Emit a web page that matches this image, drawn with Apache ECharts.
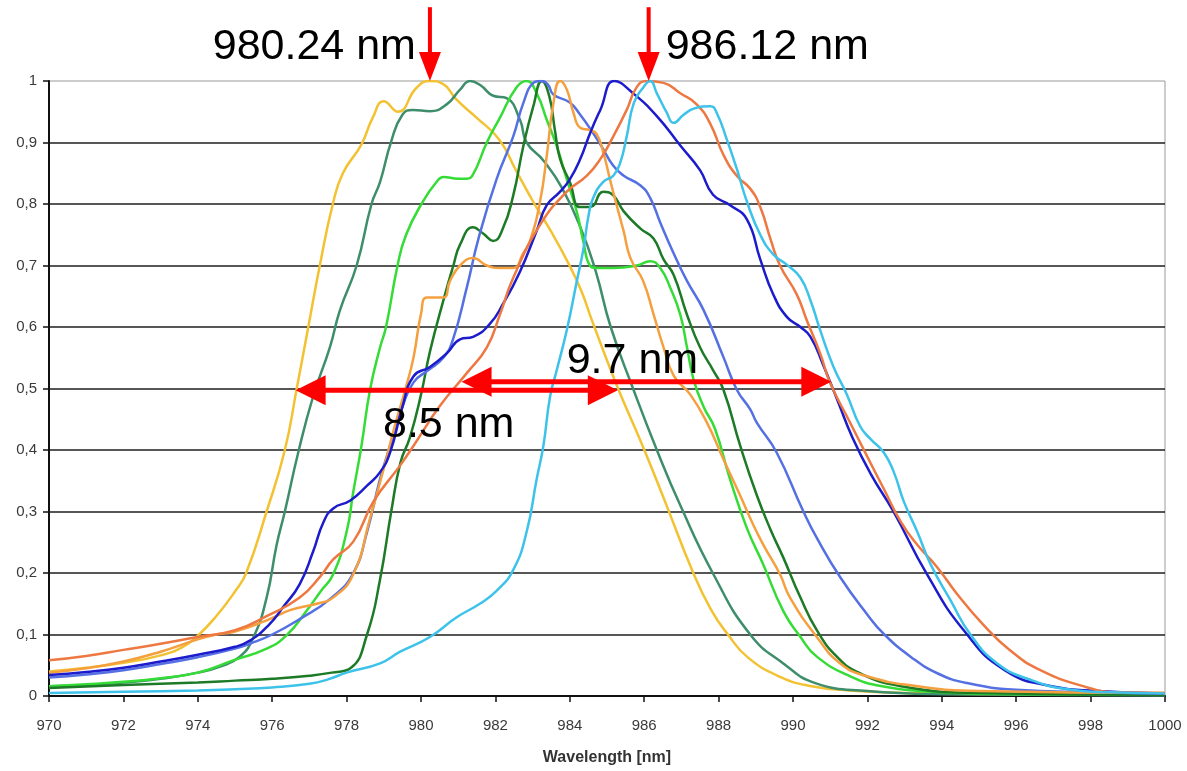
<!DOCTYPE html>
<html>
<head>
<meta charset="utf-8">
<title>Filter transmission spectra</title>
<script src="https://cdn.jsdelivr.net/npm/echarts@6/dist/echarts.min.js"></script>
<style>
  html, body { margin: 0; padding: 0; background: #fff; }
  #chart { width: 1187px; height: 771px; }
</style>
</head>
<body>
<div id="chart"></div>
<script>
// Normalised transmission curves, [wavelength nm, value]
const yellowCurve = [[970,0.040],[971,0.046],[972,0.054],[973,0.066],[973.6,0.080],[974,0.098],[974.5,0.13],[975,0.17],[975.3,0.20],[975.85,0.30],[976.34,0.40],[976.66,0.50],[976.97,0.60],[977.28,0.70],[977.63,0.80],[977.9,0.85],[978.4,0.897],[978.7,0.94],[979.0,0.967],[979.38,0.95],[979.88,0.989],[980.24,1.0],[980.6,0.995],[980.95,0.97],[981.5,0.94],[982.1,0.905],[982.55,0.855],[983.05,0.80],[983.5,0.755],[983.95,0.705],[984.3,0.66],[984.6,0.61],[985.1,0.53],[985.4,0.485],[985.97,0.405],[986.6,0.31],[987.3,0.203],[987.8,0.14],[988.25,0.10],[988.8,0.062],[989.7,0.03],[990.5,0.016],[991.5,0.009],[993,0.005],[995,0.003],[1000,0.002]];
const tealCurve = [[970,0.016],[971,0.018],[972,0.022],[973,0.028],[974,0.038],[974.6,0.048],[975.13,0.064],[975.5,0.096],[975.85,0.16],[976.12,0.246],[976.34,0.30],[976.7,0.396],[977.1,0.487],[977.55,0.567],[977.82,0.627],[978.27,0.70],[978.67,0.80],[978.9,0.836],[979.2,0.902],[979.5,0.945],[979.78,0.953],[980.24,0.951],[980.69,0.962],[981.05,0.986],[981.32,1.0],[981.6,0.993],[981.94,0.976],[982.3,0.972],[982.66,0.937],[982.84,0.90],[983.3,0.87],[983.8,0.825],[984.3,0.76],[984.7,0.69],[985.1,0.60],[985.7,0.50],[986.34,0.40],[986.97,0.31],[987.86,0.198],[988.85,0.10],[989.74,0.053],[990.6,0.021],[992,0.008],[994,0.003],[1000,0.001]];
const greenCurve = [[970,0.016],[971,0.019],[972,0.023],[973,0.029],[974,0.038],[974.95,0.058],[975.85,0.077],[976.39,0.099],[976.93,0.139],[977.3,0.17],[977.64,0.198],[978.0,0.267],[978.18,0.332],[978.4,0.407],[978.63,0.498],[978.9,0.567],[979.06,0.60],[979.37,0.70],[979.6,0.75],[980.05,0.804],[980.42,0.836],[980.6,0.844],[981.0,0.841],[981.23,0.841],[981.4,0.848],[981.77,0.90],[982.12,0.94],[982.57,0.99],[982.84,1.0],[983.11,0.98],[983.38,0.937],[983.65,0.894],[983.92,0.84],[984.19,0.787],[984.36,0.74],[984.54,0.70],[984.72,0.696],[985.17,0.696],[985.8,0.70],[986.16,0.707],[986.43,0.696],[986.7,0.664],[986.97,0.62],[987.15,0.567],[987.33,0.514],[987.6,0.47],[987.9,0.435],[988.3,0.354],[988.76,0.273],[989.2,0.214],[989.74,0.138],[990.2,0.096],[990.64,0.064],[991.54,0.032],[992.4,0.016],[994,0.006],[996,0.003],[1000,0.002]];
const darkGreenCurve = [[970,0.013],[972,0.018],[974,0.022],[975,0.025],[976,0.028],[977,0.033],[977.6,0.038],[978.1,0.045],[978.55,0.10],[978.9,0.19],[979.2,0.30],[979.45,0.38],[979.7,0.42],[980.0,0.49],[980.24,0.56],[980.6,0.643],[980.87,0.70],[981.05,0.734],[981.4,0.762],[981.67,0.752],[981.94,0.74],[982.2,0.76],[982.48,0.814],[982.75,0.894],[983.02,0.959],[983.25,1.0],[983.45,0.975],[983.6,0.92],[983.74,0.873],[984.0,0.836],[984.28,0.795],[984.55,0.795],[984.9,0.82],[985.17,0.814],[985.45,0.788],[985.9,0.76],[986.25,0.744],[986.52,0.71],[986.79,0.685],[987.15,0.62],[987.5,0.567],[987.85,0.53],[988.13,0.498],[988.58,0.407],[989.03,0.326],[989.4,0.27],[989.74,0.225],[990.2,0.16],[990.64,0.107],[991.18,0.064],[991.8,0.037],[992.9,0.016],[995,0.005],[1000,0.002]];
const blueCurve = [[970,0.030],[971,0.035],[972,0.042],[973,0.052],[974,0.063],[975,0.077],[975.4,0.085],[976,0.10],[976.74,0.125],[977.6,0.16],[978.18,0.20],[978.55,0.267],[978.9,0.353],[979.17,0.407],[979.5,0.47],[979.8,0.51],[980.2,0.53],[980.6,0.55],[980.85,0.578],[981.23,0.664],[981.55,0.745],[982.03,0.84],[982.48,0.91],[982.75,0.964],[983.02,0.997],[983.2,1.0],[983.4,0.995],[983.56,0.978],[984.0,0.965],[984.28,0.945],[984.63,0.915],[984.85,0.894],[985.17,0.862],[985.45,0.846],[985.9,0.83],[986.16,0.81],[986.43,0.77],[986.79,0.72],[987.15,0.675],[987.6,0.627],[988.13,0.551],[988.49,0.498],[988.85,0.466],[989.03,0.444],[989.56,0.396],[990.28,0.30],[990.64,0.257],[991.27,0.193],[991.99,0.133],[992.44,0.101],[993.16,0.064],[993.88,0.037],[994.68,0.021],[996,0.01],[998,0.006],[1000,0.004]];
const navyCurve = [[970,0.034],[971,0.039],[972,0.046],[973,0.056],[974,0.067],[975,0.08],[975.4,0.09],[975.9,0.115],[976.3,0.145],[976.74,0.182],[977.1,0.235],[977.38,0.283],[977.64,0.305],[978.1,0.318],[978.55,0.342],[978.9,0.364],[979.17,0.396],[979.5,0.47],[979.8,0.52],[980.24,0.535],[980.69,0.557],[981.05,0.58],[981.4,0.584],[981.85,0.605],[982.2,0.637],[982.66,0.69],[983.1,0.755],[983.38,0.798],[983.74,0.82],[984.0,0.84],[984.28,0.873],[984.55,0.916],[984.82,0.953],[985.2,1.0],[985.7,0.98],[986.34,0.943],[986.97,0.895],[987.5,0.855],[987.85,0.815],[988.31,0.798],[988.76,0.775],[989.12,0.71],[989.47,0.653],[989.84,0.616],[990.2,0.60],[990.47,0.584],[990.8,0.54],[991.2,0.48],[991.6,0.42],[992.1,0.36],[992.7,0.30],[993.6,0.198],[994.6,0.106],[995.69,0.042],[996.95,0.016],[998.2,0.008],[1000,0.004]];
const orangeCurve = [[970,0.038],[971,0.045],[972,0.056],[973,0.072],[974,0.092],[974.5,0.10],[975,0.105],[975.85,0.123],[976.5,0.14],[977.2,0.15],[977.64,0.16],[978.18,0.198],[978.63,0.289],[979.0,0.37],[979.3,0.44],[979.6,0.503],[979.8,0.551],[980.0,0.621],[980.16,0.648],[980.6,0.648],[980.78,0.675],[981.05,0.70],[981.4,0.712],[981.77,0.70],[982.12,0.696],[982.48,0.696],[982.75,0.72],[982.93,0.74],[983.2,0.804],[983.38,0.878],[983.56,0.964],[983.74,1.0],[983.92,0.986],[984.1,0.948],[984.28,0.924],[984.55,0.92],[984.72,0.914],[984.9,0.884],[985.08,0.84],[985.26,0.798],[985.45,0.755],[985.63,0.712],[985.97,0.675],[986.25,0.621],[986.52,0.567],[986.8,0.52],[987.24,0.49],[987.69,0.444],[988.13,0.385],[988.58,0.326],[988.85,0.289],[989.2,0.246],[989.65,0.198],[989.92,0.16],[990.64,0.096],[991.27,0.053],[991.99,0.032],[993.34,0.016],[995,0.008],[1000,0.005]];
const coralCurve = [[970,0.058],[971,0.065],[972,0.075],[973,0.085],[974,0.096],[975,0.107],[975.85,0.13],[976.74,0.16],[977.3,0.195],[977.64,0.222],[978.18,0.251],[978.72,0.316],[979.44,0.375],[979.8,0.407],[980.5,0.471],[981.23,0.525],[981.77,0.567],[982.12,0.62],[982.48,0.68],[983.2,0.766],[983.92,0.82],[984.46,0.846],[984.82,0.873],[985.17,0.91],[985.53,0.953],[985.8,0.99],[986.07,1.0],[986.52,0.997],[986.97,0.98],[987.41,0.962],[987.78,0.93],[988.13,0.88],[988.5,0.845],[988.85,0.825],[989.12,0.795],[989.4,0.742],[989.65,0.70],[990.1,0.653],[990.37,0.611],[990.73,0.557],[991.0,0.509],[991.54,0.444],[991.99,0.39],[992.44,0.337],[992.9,0.283],[993.34,0.246],[993.88,0.209],[994.41,0.166],[995.1,0.117],[995.84,0.074],[996.65,0.042],[997.8,0.016],[998.7,0.006],[1000,0.005]];
const cyanCurve = [[970,0.005],[972,0.007],[974,0.009],[975,0.011],[976,0.014],[977,0.02],[977.5,0.027],[978,0.038],[978.9,0.053],[979.44,0.072],[980.24,0.096],[980.96,0.128],[981.58,0.15],[982.03,0.171],[982.48,0.205],[982.84,0.267],[983.11,0.353],[983.29,0.407],[983.47,0.487],[983.65,0.53],[983.92,0.595],[984.19,0.675],[984.37,0.728],[984.5,0.78],[984.63,0.81],[984.9,0.836],[985.17,0.846],[985.36,0.868],[985.53,0.91],[985.72,0.964],[985.98,0.99],[986.16,1.0],[986.34,0.98],[986.61,0.948],[986.79,0.932],[987.06,0.945],[987.33,0.955],[987.78,0.959],[987.95,0.948],[988.22,0.905],[988.49,0.857],[988.76,0.804],[989.12,0.75],[989.47,0.718],[989.84,0.701],[990.2,0.68],[990.47,0.643],[990.73,0.595],[991.09,0.535],[991.45,0.49],[991.8,0.439],[992.08,0.418],[992.44,0.396],[992.71,0.364],[992.98,0.316],[993.34,0.267],[993.7,0.214],[994.24,0.155],[994.77,0.10],[995.49,0.053],[996.4,0.026],[997.48,0.01],[998.5,0.006],[1000,0.004]];

// Peak markers and full-width-at-half-maximum spans
const peakWavelengths = [980.24, 986.12];
const peakLabels = ['980.24 nm', '986.12 nm'];
const fwhmSpans = [[976.63, 985.29], [981.09, 991.03]];
const fwhmLevels = [0.497, 0.511];
const fwhmLabels = ['8.5 nm', '9.7 nm'];

// Axis tick labels
const yTickLabels = ['0', '0,1', '0,2', '0,3', '0,4', '0,5', '0,6', '0,7', '0,8', '0,9', '1'];

const curves = [
  { data: yellowCurve, color: '#f3c233' },
  { data: tealCurve, color: '#3e8e6c' },
  { data: greenCurve, color: '#36dc36' },
  { data: darkGreenCurve, color: '#1d7a26' },
  { data: blueCurve, color: '#5470e2' },
  { data: orangeCurve, color: '#f5a03e' },
  { data: navyCurve, color: '#1c1ccc' },
  { data: coralCurve, color: '#ee7842' },
  { data: cyanCurve, color: '#3dc2ea' }
];

const RED = '#ff0000';
const LABEL_FONT = '"Liberation Sans", Arial, sans-serif';

const chart = echarts.init(document.getElementById('chart'), null, { renderer: 'canvas' });

const lineSeries = curves.map(c => ({
  type: 'line',
  data: c.data,
  showSymbol: false,
  smooth: 0.5,
  lineStyle: { color: c.color, width: 2.5 },
  itemStyle: { color: c.color },
  z: 2,
  silent: true
}));

// Down-pointing arrows marking the two peaks, with their wavelength labels
const peakSeries = {
  type: 'custom',
  coordinateSystem: 'cartesian2d',
  data: peakWavelengths.map((w, i) => [w, 1, i]),
  encode: { x: 0, y: 1 },
  clip: false,
  silent: true,
  z: 10,
  renderItem: function (params, api) {
    const w = api.value(0);
    const idx = api.value(2);
    const tip = api.coord([w, 1]);
    const top = api.coord([w, 1.12]);
    const headLen = 29, headHalf = 11;
    const labelLeft = idx === 0;
    return {
      type: 'group',
      children: [
        { type: 'line', shape: { x1: tip[0], y1: top[1], x2: tip[0], y2: tip[1] - headLen + 2 },
          style: { stroke: RED, lineWidth: 4 } },
        { type: 'polygon', shape: { points: [[tip[0] - headHalf, tip[1] - headLen], [tip[0] + headHalf, tip[1] - headLen], [tip[0], tip[1]]] },
          style: { fill: RED } },
        { type: 'text',
          style: { text: peakLabels[idx], x: labelLeft ? tip[0] - 14 : tip[0] + 17, y: tip[1] - 34,
                   align: labelLeft ? 'right' : 'left', verticalAlign: 'middle',
                   fill: '#000', fontSize: 43, fontFamily: LABEL_FONT } }
      ]
    };
  }
};

// Double-headed arrows spanning the half-maximum widths
const fwhmSeries = {
  type: 'custom',
  coordinateSystem: 'cartesian2d',
  data: fwhmSpans.map((s, i) => [s[0], fwhmLevels[i], s[1], i]),
  encode: { x: [0, 2], y: 1 },
  clip: false,
  silent: true,
  z: 11,
  renderItem: function (params, api) {
    const idx = api.value(3);
    const level = api.value(1);
    const a = api.coord([api.value(0), level]);
    const b = api.coord([api.value(2), level]);
    const headLen = 30, headHalf = 15;
    const y = a[1];
    const mid = (a[0] + b[0]) / 2;
    const below = idx === 0;
    return {
      type: 'group',
      children: [
        { type: 'line', shape: { x1: a[0] + headLen - 2, y1: y, x2: b[0] - headLen + 2, y2: y },
          style: { stroke: RED, lineWidth: 5 } },
        { type: 'polygon', shape: { points: [[a[0], y], [a[0] + headLen, y - headHalf], [a[0] + headLen, y + headHalf]] },
          style: { fill: RED } },
        { type: 'polygon', shape: { points: [[b[0], y], [b[0] - headLen, y - headHalf], [b[0] - headLen, y + headHalf]] },
          style: { fill: RED } },
        { type: 'text',
          style: { text: fwhmLabels[idx], x: below ? mid - 8 : mid - 14, y: below ? y + 35 : y - 21,
                   align: 'center', verticalAlign: 'middle',
                   fill: '#000', fontSize: 43, fontFamily: LABEL_FONT } }
      ]
    };
  }
};

chart.setOption({
  animation: false,
  backgroundColor: '#fff',
  grid: {
    left: 49, right: 22, top: 81, bottom: 68,
    show: true, borderColor: '#9a9a9a', borderWidth: 1, backgroundColor: 'transparent'
  },
  xAxis: {
    type: 'value',
    min: 970, max: 1000, interval: 2,
    name: 'Wavelength [nm]',
    nameLocation: 'middle',
    nameGap: 54,
    nameTextStyle: { fontFamily: LABEL_FONT, fontWeight: 'bold', fontSize: 16, color: '#333' },
    axisLine: { lineStyle: { color: '#111', width: 2 } },
    axisTick: { show: true, length: 6, lineStyle: { color: '#111', width: 1.5 } },
    axisLabel: { fontFamily: LABEL_FONT, fontSize: 15, color: '#3a3a3a', margin: 22, formatter: v => String(v) },
    splitLine: { show: false }
  },
  yAxis: {
    type: 'value',
    min: 0, max: 1, interval: 0.1,
    axisLine: { show: true, lineStyle: { color: '#111', width: 2 } },
    axisTick: { show: true, length: 6, lineStyle: { color: '#111', width: 1.5 } },
    axisLabel: {
      fontFamily: LABEL_FONT, fontSize: 15, color: '#3a3a3a', margin: 12,
      formatter: v => yTickLabels[Math.round(v * 10)]
    },
    splitLine: { show: true, showMinLine: false, showMaxLine: false, lineStyle: { color: '#1e1e1e', width: 1.6 } }
  },
  series: lineSeries.concat([peakSeries, fwhmSeries])
});
</script>
</body>
</html>
